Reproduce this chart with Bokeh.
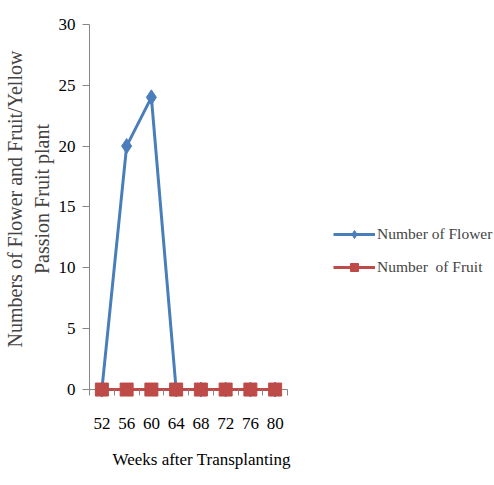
from bokeh.plotting import figure
from bokeh.models import Range1d, FixedTicker, Legend, LegendItem, Title
from bokeh.embed import file_html
from bokeh.resources import INLINE

weeks = [52, 56, 60, 64, 68, 72, 76, 80]
flowers = [0, 20, 24, 0, 0, 0, 0, 0]
fruits = [0, 0, 0, 0, 0, 0, 0, 0]
y_ticks = [0, 5, 10, 15, 20, 25, 30]
bounds = [50, 54, 58, 62, 66, 70, 74, 78, 82]

FONT = "Liberation Serif"
AX = "#868686"
BLUE = "#4A7EBB"
RED = "#BE4B48"

p = figure(width=494, height=485, output_backend="svg", toolbar_location=None,
           x_range=Range1d(50, 115.45), y_range=Range1d(-0.652, 31.957),
           min_border_left=89, min_border_right=0, min_border_top=0, min_border_bottom=85)
p.outline_line_color = None
p.grid.grid_line_color = None
p.background_fill_color = "white"
p.border_fill_color = "white"

# x axis: category-style ticks between weeks; axis line drawn at y = 0
xa = p.xaxis[0]
xa.bounds = (bounds[0], bounds[-1])
xa.ticker = FixedTicker(ticks=weeks, minor_ticks=bounds)
xa.axis_line_color = None
xa.major_tick_out = 0
xa.major_tick_in = 0
xa.minor_tick_out = -2
xa.minor_tick_in = 8
xa.minor_tick_line_color = AX
xa.major_label_standoff = 20
xa.major_label_text_font = FONT
xa.major_label_text_font_size = "17px"
xa.major_label_text_color = "black"

x_title = Title(text="Weeks after Transplanting", align="left", offset=23,
                text_font=FONT, text_font_size="17px", text_font_style="normal",
                text_color="black", standoff=33)
p.add_layout(x_title, "below")

ya = p.yaxis[0]
ya.bounds = (0, 30)
ya.ticker = FixedTicker(ticks=y_ticks)
ya.minor_tick_line_color = None
ya.major_tick_out = 7
ya.major_tick_in = 0
ya.major_tick_line_color = AX
ya.axis_line_color = AX
ya.major_label_standoff = 7
ya.major_label_text_font = FONT
ya.major_label_text_font_size = "17px"
ya.major_label_text_color = "black"
ya.axis_label = "Numbers of Flower and Fruit/Yellow\nPassion Fruit plant"
ya.axis_label_text_font = FONT
ya.axis_label_text_font_size = "20px"
ya.axis_label_text_font_style = "normal"
ya.axis_label_standoff = 3

p.segment(x0=[bounds[0]], x1=[bounds[-1]], y0=[0], y1=[0], line_color=AX, line_width=1)

fl = p.line(weeks, flowers, line_color=BLUE, line_width=3)
fm = p.scatter(weeks, flowers, marker="diamond", size=15, fill_color=BLUE, line_color=BLUE)
rl = p.line(weeks, fruits, line_color=RED, line_width=3)
rm = p.scatter(weeks, fruits, marker="square", size=13, fill_color=RED, line_color=RED)

legend = Legend(items=[LegendItem(label="Number of Flower", renderers=[fl, fm]),
                       LegendItem(label="Number  of Fruit", renderers=[rl, rm])],
                location=(244, 120))
legend.border_line_color = None
legend.background_fill_alpha = 0
legend.glyph_width = 42
legend.glyph_height = 20
legend.spacing = 13
legend.padding = 0
legend.margin = 0
legend.label_standoff = 2
legend.label_text_font = FONT
legend.label_text_font_size = "15.5px"
p.add_layout(legend, "center")

open("out.html", "w").write(file_html(p, INLINE))
